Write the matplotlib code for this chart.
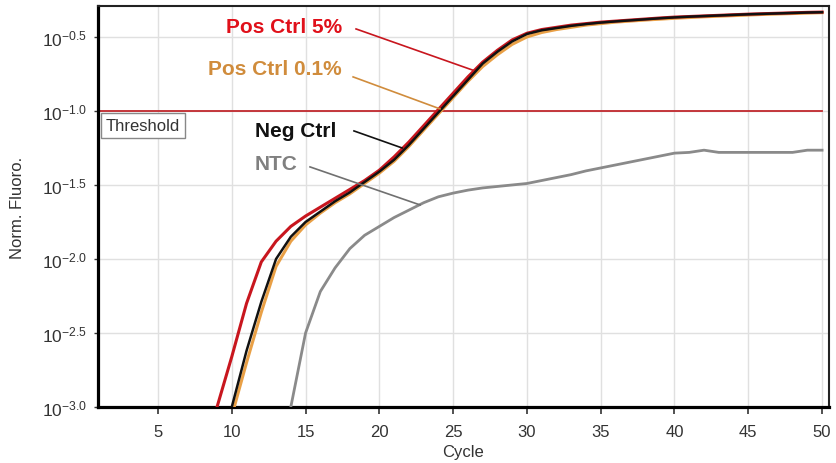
import matplotlib
matplotlib.use("Agg")
import matplotlib.pyplot as plt
import numpy as np

plt.rcParams['font.family'] = ['Liberation Sans', 'DejaVu Sans']
plt.rcParams['mathtext.fontset'] = 'custom'
plt.rcParams['mathtext.rm'] = 'Liberation Sans'
plt.rcParams['mathtext.it'] = 'Liberation Sans:italic'
plt.rcParams['mathtext.bf'] = 'Liberation Sans:bold'

# ---- data (log10 of normalised fluorescence) ----
red_cycles = list(range(9, 51))
red_log = [-3.00, -2.66, -2.30, -2.02, -1.88, -1.78, -1.71, -1.65, -1.59, -1.53,
           -1.47, -1.40, -1.31, -1.21, -1.10, -0.99, -0.88, -0.77, -0.67, -0.59,
           -0.52, -0.475, -0.45, -0.435, -0.42, -0.41, -0.40, -0.393, -0.386, -0.379,
           -0.372, -0.366, -0.362, -0.358, -0.354, -0.350, -0.346, -0.343, -0.340,
           -0.337, -0.334, -0.332]

neg_cycles = list(range(10, 51))
neg_log = [-3.00, -2.62, -2.29, -2.00, -1.85, -1.75, -1.68, -1.61, -1.55, -1.48,
           -1.41, -1.33, -1.23, -1.12, -1.01, -0.90, -0.79, -0.68, -0.60, -0.53,
           -0.48, -0.455, -0.44, -0.425, -0.413, -0.403, -0.395, -0.388, -0.381,
           -0.374, -0.368, -0.363, -0.359, -0.355, -0.351, -0.347, -0.344, -0.341,
           -0.338, -0.335, -0.333]

orange_cycles = list(range(10, 51))
orange_log = [-3.06, -2.70, -2.36, -2.05, -1.88, -1.77, -1.69, -1.62, -1.56, -1.49,
              -1.42, -1.34, -1.24, -1.13, -1.02, -0.91, -0.80, -0.70, -0.62, -0.55,
              -0.50, -0.47, -0.45, -0.435, -0.42, -0.41, -0.40, -0.393, -0.386,
              -0.38, -0.374, -0.369, -0.364, -0.36, -0.356, -0.352, -0.348, -0.345,
              -0.342, -0.339, -0.336]

ntc_cycles = list(range(14, 51))
ntc_log = [-3.00, -2.50, -2.22, -2.06, -1.93, -1.84, -1.78, -1.72, -1.67, -1.62,
           -1.58, -1.555, -1.535, -1.52, -1.51, -1.50, -1.49, -1.47, -1.45, -1.43,
           -1.405, -1.385, -1.365, -1.345, -1.325, -1.305, -1.285, -1.28, -1.265,
           -1.28, -1.28, -1.28, -1.28, -1.28, -1.28, -1.265, -1.265]

threshold = 0.1
threshold_end = 50

x_ticks = [5, 10, 15, 20, 25, 30, 35, 40, 45, 50]
y_tick_exps = [-3.0, -2.5, -2.0, -1.5, -1.0, -0.5]
y_tick_labels = [r'$\mathregular{10^{%.1f}}$' % e for e in y_tick_exps]

labels = ['Pos Ctrl 5%', 'Pos Ctrl 0.1%', 'Neg Ctrl', 'NTC']

# ---- figure ----
fig = plt.figure(figsize=(8.37, 4.64), dpi=100)
ax = fig.add_axes([98/837, 56/464, 731/837, 401/464])

c_red = '#C8161E'
c_orange = '#E9A046'
c_black = '#111111'
c_gray = '#8A8A8A'

xmin, xmax = 0.934, 50.47
ax.plot([xmin, threshold_end], [threshold, threshold],
        color='#C0282D', lw=1.3, zorder=2)

ax.plot(ntc_cycles, 10 ** np.array(ntc_log), color=c_gray, lw=2.0, zorder=3)
ax.plot(orange_cycles, 10 ** np.array(orange_log), color=c_orange, lw=2.2, zorder=3)
ax.plot(red_cycles, 10 ** np.array(red_log), color=c_red, lw=2.2, zorder=4)
ax.plot(neg_cycles, 10 ** np.array(neg_log), color=c_black, lw=1.8, zorder=5)

ax.set_yscale('log')
ax.set_xlim(xmin, xmax)
ax.set_ylim(10 ** -3.0, 10 ** -0.291)
ax.set_xticks(x_ticks)
ax.set_xticklabels([str(t) for t in x_ticks])
ax.set_yticks([10 ** e for e in y_tick_exps])
ax.set_yticklabels(y_tick_labels)
ax.yaxis.set_minor_locator(matplotlib.ticker.NullLocator())

ax.grid(True, color='#E0E0E0', lw=1.0, zorder=0)
ax.set_axisbelow(True)

for s in ['left', 'bottom']:
    ax.spines[s].set_linewidth(2.3)
    ax.spines[s].set_color('black')
for s in ['top', 'right']:
    ax.spines[s].set_linewidth(1.5)
    ax.spines[s].set_color('#222222')

ax.tick_params(axis='x', direction='out', length=5, width=1.2, pad=7,
               labelsize=12, labelcolor='#333333', color='#333333')
ax.tick_params(axis='y', direction='out', length=3, width=1.0, pad=5,
               labelsize=12.5, labelcolor='#333333', color='#333333')

ax.set_xlabel('Cycle', fontsize=12, color='#333333')
ax.set_ylabel('Norm. Fluoro.', fontsize=12, color='#333333')
ax.xaxis.set_label_coords(0.5, -0.092)
ax.yaxis.set_label_coords(-0.100, 0.5)

# Threshold box
ax.text(1.476, 10 ** -1.10, 'Threshold', fontsize=12, color='#333333',
        ha='left', va='center', zorder=6,
        bbox=dict(boxstyle='square,pad=0.3', fc='white', ec='#888888', lw=1.0))

# annotations
ann = [
    (labels[0], '#E0101A', (9.61, -0.432), (18.42, -0.446), (26.35, -0.725), '#C8161E'),
    (labels[1], '#D08C3C', (8.39, -0.716), (18.22, -0.77), (24.11, -0.986), '#D08C3C'),
    (labels[2], '#111111', (11.57, -1.135), (18.28, -1.135), (21.54, -1.25), '#111111'),
    (labels[3], '#808080', (11.57, -1.358), (15.30, -1.378), (22.76, -1.635), '#707070'),
]
for text, tc, tpos, lstart, lend, lc in ann:
    ax.text(tpos[0], 10 ** tpos[1], text, fontsize=15, fontweight='bold', color=tc,
            ha='left', va='center', zorder=7)
    ax.plot([lstart[0], lend[0]], [10 ** lstart[1], 10 ** lend[1]], color=lc, lw=1.2, zorder=7)

fig.savefig('out.png', dpi=100)
